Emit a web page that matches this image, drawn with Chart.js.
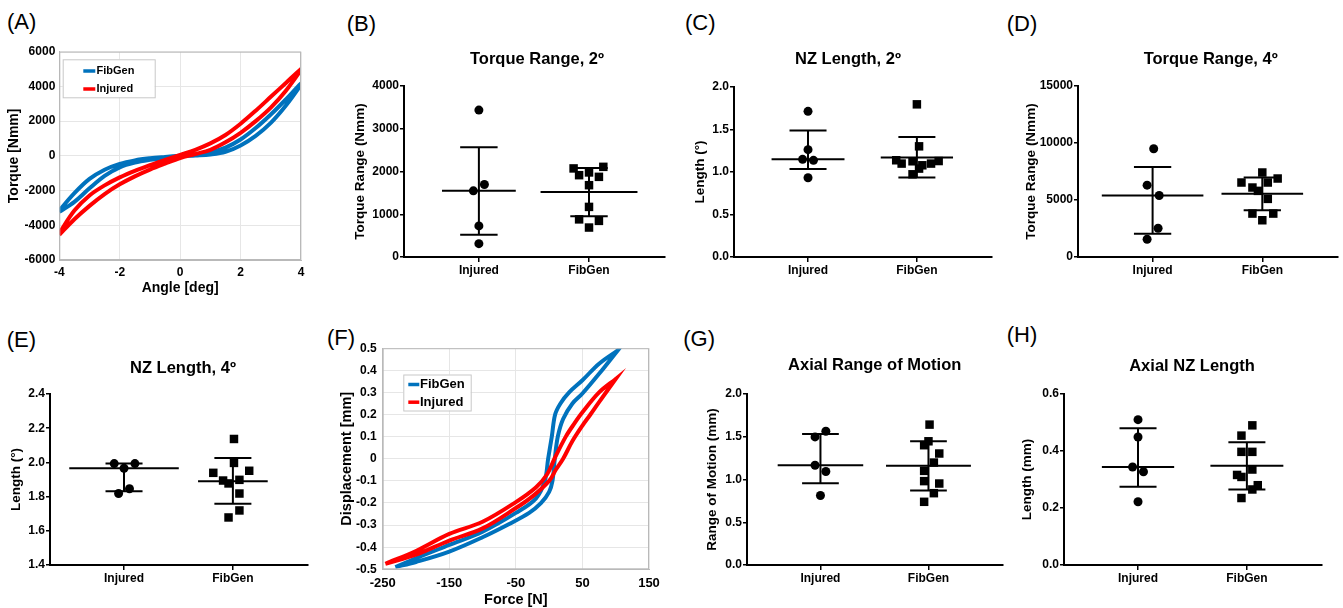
<!DOCTYPE html>
<html>
<head>
<meta charset="utf-8">
<script src="https://cdn.jsdelivr.net/npm/chart.js@4.4.1/dist/chart.umd.min.js"></script>
<style>
  html, body { margin: 0; padding: 0; background: #fff; }
  #figure { position: relative; width: 1343px; height: 608px; overflow: hidden; background: #fff;
            font-family: Arial, "Liberation Sans", sans-serif; }
  .tag { position: absolute; font-size: 22px; line-height: 22px; color: #000; }
</style>
</head>
<body>
<div id="figure">
  <div class="tag" style="left:7px;top:10.7px">(A)</div>
  <div class="tag" style="left:346.7px;top:13.4px">(B)</div>
  <div class="tag" style="left:685px;top:12.4px">(C)</div>
  <div class="tag" style="left:1006.7px;top:13.4px">(D)</div>
  <div class="tag" style="left:6.7px;top:329px">(E)</div>
  <div class="tag" style="left:327px;top:327px">(F)</div>
  <div class="tag" style="left:683.3px;top:328px">(G)</div>
  <div class="tag" style="left:1006.7px;top:324px">(H)</div>
</div>
<script>
var FONT = 'Arial, "Liberation Sans", sans-serif';
var groups = ['Injured', 'FibGen'];

// (A) torque vs angle, one loading and one unloading branch per specimen
var angleUp = [-4, -3.5, -3, -2.5, -2, -1.5, -1, -0.5, 0, 0.5, 1, 1.5, 2, 2.5, 3, 3.5, 4];
var angleDown = [4, 3.5, 3, 2.5, 2, 1.5, 1, 0.5, 0, -0.5, -1, -1.5, -2, -2.5, -3, -3.5, -4];
var fibgenTorqueUp = [-3230, -2650, -1870, -1150, -660, -390, -230, -120, -30, 20, 80, 230, 600, 1150, 1900, 2900, 4100];
var fibgenTorqueDown = [4170, 3250, 2380, 1600, 940, 470, 200, 70, 10, -60, -140, -260, -460, -800, -1330, -2150, -3150];
var injuredTorqueUp = [-4550, -3650, -2880, -2200, -1640, -1180, -790, -450, -130, 100, 350, 780, 1330, 2000, 2780, 3750, 4950];
var injuredTorqueDown = [5000, 4200, 3400, 2600, 1850, 1200, 720, 350, 60, -230, -530, -860, -1240, -1700, -2280, -3150, -4450];
var angleTicks = [-4, -2, 0, 2, 4];
var torqueTicks = [-6000, -4000, -2000, 0, 2000, 4000, 6000];

// (F) displacement vs axial force
var fibgenForceLoad = [-231, -200, -150, -100, -60, -30, -12, 0, 5, 8.5, 13, 21, 35, 50, 75, 103];
var fibgenDispLoad = [-0.49, -0.467, -0.42, -0.355, -0.295, -0.245, -0.2, -0.15, -0.1, 0, 0.1, 0.18, 0.25, 0.295, 0.384, 0.49];
var fibgenForceUnload = [103, 75, 50, 30, 17, 9, 4, -1.5, -6.5, -20, -50, -100, -150, -200, -231];
var fibgenDispUnload = [0.49, 0.43, 0.355, 0.3, 0.25, 0.2, 0.1, 0, -0.1, -0.18, -0.245, -0.33, -0.39, -0.45, -0.49];
var injuredForceLoad = [-246, -200, -150, -100, -50, -25, 0, 10, 21, 35, 50, 62, 75, 100];
var injuredDispLoad = [-0.475, -0.434, -0.37, -0.315, -0.223, -0.17, -0.1, -0.05, 0, 0.08, 0.15, 0.2, 0.256, 0.361];
var injuredForceUnload = [100, 75, 50, 38, 25, 8, -3, -20, -50, -100, -150, -200, -246];
var injuredDispUnload = [0.361, 0.3, 0.21, 0.16, 0.1, 0, -0.07, -0.13, -0.196, -0.285, -0.34, -0.417, -0.475];
var forceTicks = [-250, -150, -50, 50, 150];
var dispTicks = [-0.5, -0.4, -0.3, -0.2, -0.1, 0, 0.1, 0.2, 0.3, 0.4, 0.5];

// (B) torque range, 2 deg
var bInjured = [3437, 1695, 1547, 727, 312];
var bInjuredX = [1.00, 1.05, 0.95, 1.00, 1.00];
var bFibGen = [2072, 2109, 1914, 1978, 1875, 1680, 1172, 880, 845, 689];
var bFibGenX = [1.86, 2.13, 1.91, 2.00, 2.09, 2.00, 2.00, 1.91, 2.09, 2.00];
var bCenter = [1547, 1521], bUpper = [2570, 2080], bLower = [520, 955];
var bTicks = [0, 1000, 2000, 3000, 4000];

// (C) NZ length, 2 deg
var cInjured = [1.714, 1.263, 1.149, 1.137, 0.933];
var cInjuredX = [1.00, 1.00, 0.95, 1.05, 1.00];
var cFibGen = [1.796, 1.302, 1.138, 1.099, 1.126, 1.079, 1.099, 1.129, 0.973, 1.040];
var cFibGenX = [2.00, 2.02, 1.81, 1.86, 1.96, 2.05, 2.13, 2.20, 1.96, 2.02];
var cCenter = [1.150, 1.172], cUpper = [1.489, 1.412], cLower = [1.036, 0.936];
var cTicks = [0, 0.5, 1, 1.5, 2];

// (D) torque range, 4 deg
var dInjured = [9492, 6299, 5391, 2520, 1553];
var dInjuredX = [1.01, 0.95, 1.06, 1.05, 0.95];
var dFibGen = [7412, 6885, 6533, 6533, 6094, 5801, 5098, 3809, 3809, 3223];
var dFibGenX = [2.00, 2.14, 1.81, 2.05, 1.91, 1.96, 2.05, 1.91, 2.10, 2.00];
var dCenter = [5391, 5540], dUpper = [7900, 6975], dLower = [2040, 4100];
var dTicks = [0, 5000, 10000, 15000];

// (E) NZ length, 4 deg
var eInjured = [1.993, 1.993, 1.966, 1.818, 1.846];
var eInjuredX = [0.91, 1.10, 1.00, 0.95, 1.05];
var eFibGen = [2.137, 1.997, 1.939, 1.951, 1.894, 1.877, 1.898, 1.818, 1.719, 1.678];
var eFibGenX = [2.01, 2.01, 1.82, 2.15, 1.91, 1.96, 2.06, 2.06, 2.06, 1.96];
var eCenter = [1.966, 1.890], eUpper = [1.993, 2.026], eLower = [1.832, 1.758];
var eTicks = [1.4, 1.6, 1.8, 2.0, 2.2, 2.4];

// (G) axial range of motion
var gInjured = [1.564, 1.498, 1.167, 1.093, 0.813];
var gInjuredX = [1.05, 0.95, 0.95, 1.05, 1.00];
var gFibGen = [1.642, 1.447, 1.401, 1.304, 1.198, 1.101, 0.981, 0.953, 0.840, 0.739];
var gFibGenX = [2.01, 2.00, 1.96, 2.10, 2.05, 1.96, 1.96, 2.10, 2.05, 1.96];
var gCenter = [1.167, 1.162], gUpper = [1.531, 1.447], gLower = [0.955, 0.872];
var gTicks = [0, 0.5, 1, 1.5, 2];

// (H) axial NZ length
var hInjured = [0.510, 0.449, 0.344, 0.327, 0.222];
var hInjuredX = [1.00, 1.00, 0.95, 1.05, 1.00];
var hFibGen = [0.490, 0.454, 0.397, 0.397, 0.335, 0.316, 0.309, 0.280, 0.265, 0.235];
var hFibGenX = [2.05, 1.95, 1.95, 2.05, 2.05, 1.91, 1.95, 2.10, 2.05, 1.95];
var hCenter = [0.344, 0.348], hUpper = [0.480, 0.431], hLower = [0.275, 0.265];
var hTicks = [0, 0.2, 0.4, 0.6];

Chart.defaults.font.family = FONT;
Chart.defaults.color = '#000';
Chart.defaults.animation = false;

function makeCanvas(left, top, w, h) {
  var c = document.createElement('canvas');
  c.width = Math.round(w);
  c.height = Math.round(h);
  c.style.position = 'absolute';
  c.style.left = left + 'px';
  c.style.top = top + 'px';
  document.getElementById('figure').appendChild(c);
  return c;
}

function pairs(xs, ys) {
  return xs.map(function(x, i) { return { x: x, y: ys[i] }; });
}

function segment(x0, x1, y0, y1) {
  return {
    data: [{ x: x0, y: y0 }, { x: x1, y: y1 }],
    showLine: true, borderColor: '#000', borderWidth: 2,
    pointRadius: 0, pointHoverRadius: 0
  };
}

// title centred over the plot, drawn by hand so it can sit off-centre like the original
var panelTitle = {
  id: 'panelTitle',
  afterDraw: function(chart, args, opts) {
    var ctx = chart.ctx;
    ctx.save();
    ctx.font = 'bold 16.5px ' + FONT;
    ctx.fillStyle = '#000';
    ctx.textAlign = 'center';
    ctx.textBaseline = 'middle';
    ctx.fillText(opts.text, opts.x, opts.y);
    ctx.restore();
  }
};

// light box round the plot plus a boxed legend inside it
var matlabAxes = {
  id: 'matlabAxes',
  afterDatasetsDraw: function(chart, args, opts) {
    var ctx = chart.ctx, a = chart.chartArea;
    ctx.save();
    ctx.strokeStyle = '#b9b9b9';
    ctx.lineWidth = 1;
    ctx.strokeRect(a.left + 0.5, a.top + 0.5, a.right - a.left - 1, a.bottom - a.top - 1);

    var x = a.left + opts.dx, y = a.top + opts.dy;
    ctx.fillStyle = '#fff';
    ctx.fillRect(x, y, opts.w, opts.h);
    ctx.strokeStyle = '#c8c8c8';
    ctx.strokeRect(x + 0.5, y + 0.5, opts.w, opts.h);
    ctx.font = 'bold ' + opts.size + 'px ' + FONT;
    ctx.textBaseline = 'middle';
    chart.data.datasets.forEach(function(ds, i) {
      var ly = y + opts.firstRow + i * opts.rowGap;
      ctx.strokeStyle = ds.borderColor;
      ctx.lineWidth = 3.5;
      ctx.beginPath();
      ctx.moveTo(x + opts.lineX, ly);
      ctx.lineTo(x + opts.lineX + opts.lineW, ly);
      ctx.stroke();
      ctx.fillStyle = '#000';
      ctx.fillText(ds.label, x + opts.textX, ly);
    });
    ctx.restore();
  }
};

function loopPanel(p) {
  var L = p.layout;
  var canvas = makeCanvas(L.left, L.top, L.width, L.height);
  var area = L.area;
  return new Chart(canvas, {
    type: 'scatter',
    data: {
      datasets: p.series.map(function(s) {
        return {
          label: s.label, data: s.points, order: s.order,
          showLine: true, tension: 0.35,
          borderColor: s.color, backgroundColor: s.color, borderWidth: 4,
          pointRadius: 0, pointHoverRadius: 0
        };
      })
    },
    options: {
      responsive: false, events: [],
      layout: { padding: { left: area[0] - L.left - L.yWidth, top: area[1] - L.top,
                           right: L.left + L.width - area[2], bottom: 0 } },
      plugins: { legend: { display: false }, tooltip: { enabled: false }, matlabAxes: L.legend },
      scales: {
        x: {
          min: p.xTicks[0], max: p.xTicks[p.xTicks.length - 1],
          afterBuildTicks: function(s) { s.ticks = p.xTicks.map(function(v) { return { value: v }; }); },
          afterFit: function(s) { s.height = L.top + L.height - area[3]; },
          ticks: { font: { size: L.xTickSize, weight: 'bold' }, padding: L.xTickPad, maxRotation: 0,
                   callback: function(v) { return String(v); } },
          grid: { color: '#e6e6e6', drawTicks: false },
          border: { color: '#b9b9b9' },
          title: { display: true, text: p.xTitle, font: { size: L.titleSize, weight: 'bold' },
                   padding: { top: 0, bottom: L.xTitlePad } }
        },
        y: {
          min: p.yTicks[0], max: p.yTicks[p.yTicks.length - 1],
          afterBuildTicks: function(s) { s.ticks = p.yTicks.map(function(v) { return { value: v }; }); },
          afterFit: function(s) { s.width = L.yWidth; },
          ticks: { font: { size: 12, weight: 'bold' }, padding: L.yTickPad,
                   callback: function(v) { return String(v); } },
          grid: { color: '#e6e6e6', drawTicks: false },
          border: { color: '#b9b9b9' },
          title: { display: true, text: p.yTitle, font: { size: L.titleSize, weight: 'bold' },
                   padding: { top: L.yTitlePad, bottom: 0 } }
        }
      }
    },
    plugins: [matlabAxes]
  });
}

function dotPanel(p) {
  var L = p.layout;
  var left = L.area[0], top = L.area[1], right = L.area[2], bottom = L.area[3];
  var yW = 60, xH = 45, padTop = 56, padRight = 8;
  var cLeft = left - yW, cTop = top - padTop;
  var canvas = makeCanvas(cLeft, cTop, right - cLeft + padRight, bottom - cTop + xH);

  var datasets = [
    { data: pairs(p.injuredX, p.injured), pointStyle: 'circle', pointRadius: 4.5,
      backgroundColor: '#000', borderColor: '#000', borderWidth: 0 },
    { data: pairs(p.fibgenX, p.fibgen), pointStyle: 'rect', pointRadius: 6,
      backgroundColor: '#000', borderColor: '#000', borderWidth: 0 }
  ];
  [0, 1].forEach(function(g) {
    var x = g + 1, half = L.meanHalf[g], cap = 0.17;
    datasets.push(segment(x - half, x + half, p.center[g], p.center[g]));
    datasets.push(segment(x - cap, x + cap, p.upper[g], p.upper[g]));
    datasets.push(segment(x - cap, x + cap, p.lower[g], p.lower[g]));
    datasets.push(segment(x, x, p.lower[g], p.upper[g]));
  });

  return new Chart(canvas, {
    type: 'scatter',
    data: { datasets: datasets },
    options: {
      responsive: false, events: [],
      layout: { padding: { left: 0, top: padTop, right: padRight, bottom: 0 } },
      plugins: {
        legend: { display: false }, tooltip: { enabled: false },
        panelTitle: { text: p.title, x: L.titleX - cLeft, y: L.titleY - cTop }
      },
      scales: {
        x: {
          min: 0.32, max: 2.69,
          afterBuildTicks: function(s) { s.ticks = [{ value: 1 }, { value: 2 }]; },
          afterFit: function(s) { s.height = xH; },
          ticks: { font: { size: 12, weight: 'bold' }, padding: 1, maxRotation: 0,
                   callback: function(v) { return groups[v - 1]; } },
          grid: { drawOnChartArea: false, tickLength: 5, color: '#000', lineWidth: 1.5 },
          border: { color: '#000', width: 2 }
        },
        y: {
          min: p.yTicks[0], max: p.yTicks[p.yTicks.length - 1],
          afterBuildTicks: function(s) { s.ticks = p.yTicks.map(function(v) { return { value: v }; }); },
          afterFit: function(s) { s.width = yW; },
          ticks: { font: { size: 12, weight: 'bold' }, padding: 1,
                   callback: function(v) { return v.toFixed(p.decimals); } },
          grid: { drawOnChartArea: false, tickLength: 4, color: '#000', lineWidth: 1.5 },
          border: { color: '#000', width: 2 },
          title: { display: true, text: p.yTitle, font: { size: 13.5, weight: 'bold' },
                   padding: { top: yW - L.yTitleGap - 8.1, bottom: 0 } }
        }
      }
    },
    plugins: [panelTitle]
  });
}

loopPanel({
  xTitle: 'Angle [deg]', yTitle: 'Torque [Nmm]', xTicks: angleTicks, yTicks: torqueTicks,
  series: [
    { label: 'FibGen', color: '#0072BD', order: 1,
      points: pairs(angleUp, fibgenTorqueUp).concat(pairs(angleDown, fibgenTorqueDown)) },
    { label: 'Injured', color: '#FF0000', order: 0,
      points: pairs(angleUp, injuredTorqueUp).concat(pairs(angleDown, injuredTorqueDown)) }
  ],
  layout: {
    left: 0, top: 40, width: 320, height: 270, area: [59.3, 51.7, 301, 260], yWidth: 59.3,
    xTickSize: 12, xTickPad: 5, yTickPad: 4, titleSize: 14, xTitlePad: 13.3, yTitlePad: 5.9,
    legend: { dx: 3.4, dy: 7.6, w: 92, h: 38, lineX: 20.6, lineW: 12, textX: 33.8,
              firstRow: 11.7, rowGap: 18, size: 11 }
  }
});

loopPanel({
  xTitle: 'Force [N]', yTitle: 'Displacement [mm]', xTicks: forceTicks, yTicks: dispTicks,
  series: [
    { label: 'FibGen', color: '#0072BD', order: 1,
      points: pairs(fibgenForceLoad, fibgenDispLoad).concat(pairs(fibgenForceUnload, fibgenDispUnload)) },
    { label: 'Injured', color: '#FF0000', order: 0,
      points: pairs(injuredForceLoad, injuredDispLoad).concat(pairs(injuredForceUnload, injuredDispUnload)) }
  ],
  layout: {
    left: 330, top: 335, width: 340, height: 275, area: [382.7, 347.7, 649, 569.3], yWidth: 52.7,
    xTickSize: 13, xTickPad: 6.3, yTickPad: 6, titleSize: 14.5, xTitlePad: 1.3, yTitlePad: 8,
    legend: { dx: 20.6, dy: 26.3, w: 67.4, h: 36, lineX: 5, lineW: 11, textX: 16.7,
              firstRow: 10, rowGap: 17.7, size: 13 }
  }
});

dotPanel({ title: 'Torque Range, 2º', yTitle: 'Torque Range (Nmm)', yTicks: bTicks, decimals: 0,
  injured: bInjured, injuredX: bInjuredX, fibgen: bFibGen, fibgenX: bFibGenX,
  center: bCenter, upper: bUpper, lower: bLower,
  layout: { area: [404, 86, 665, 256.7], titleX: 537, titleY: 59, yTitleGap: 44, meanHalf: [0.335, 0.44] } });

dotPanel({ title: 'NZ Length, 2º', yTitle: 'Length (°)', yTicks: cTicks, decimals: 1,
  injured: cInjured, injuredX: cInjuredX, fibgen: cFibGen, fibgenX: cFibGenX,
  center: cCenter, upper: cUpper, lower: cLower,
  layout: { area: [734, 86.7, 992, 256.7], titleX: 848, titleY: 59.3, yTitleGap: 34, meanHalf: [0.335, 0.332] } });

dotPanel({ title: 'Torque Range, 4º', yTitle: 'Torque Range (Nmm)', yTicks: dTicks, decimals: 0,
  injured: dInjured, injuredX: dInjuredX, fibgen: dFibGen, fibgenX: dFibGenX,
  center: dCenter, upper: dUpper, lower: dLower,
  layout: { area: [1078, 86, 1338, 256.7], titleX: 1210.7, titleY: 59, yTitleGap: 47, meanHalf: [0.463, 0.372] } });

dotPanel({ title: 'NZ Length, 4º', yTitle: 'Length (°)', yTicks: eTicks, decimals: 1,
  injured: eInjured, injuredX: eInjuredX, fibgen: eFibGen, fibgenX: eFibGenX,
  center: eCenter, upper: eUpper, lower: eLower,
  layout: { area: [50, 394.3, 308, 565.7], titleX: 183, titleY: 368.7, yTitleGap: 34, meanHalf: [0.503, 0.32] } });

dotPanel({ title: 'Axial Range of Motion', yTitle: 'Range of Motion (mm)', yTicks: gTicks, decimals: 1,
  injured: gInjured, injuredX: gInjuredX, fibgen: gFibGen, fibgenX: gFibGenX,
  center: gCenter, upper: gUpper, lower: gLower,
  layout: { area: [747, 394.3, 1003, 565.7], titleX: 874.7, titleY: 366, yTitleGap: 35, meanHalf: [0.396, 0.393] } });

dotPanel({ title: 'Axial NZ Length', yTitle: 'Length (mm)', yTicks: hTicks, decimals: 1,
  injured: hInjured, injuredX: hInjuredX, fibgen: hFibGen, fibgenX: hFibGenX,
  center: hCenter, upper: hUpper, lower: hLower,
  layout: { area: [1064, 394.3, 1322, 565.7], titleX: 1192, titleY: 366.3, yTitleGap: 36.5, meanHalf: [0.332, 0.335] } });
</script>
</body>
</html>
